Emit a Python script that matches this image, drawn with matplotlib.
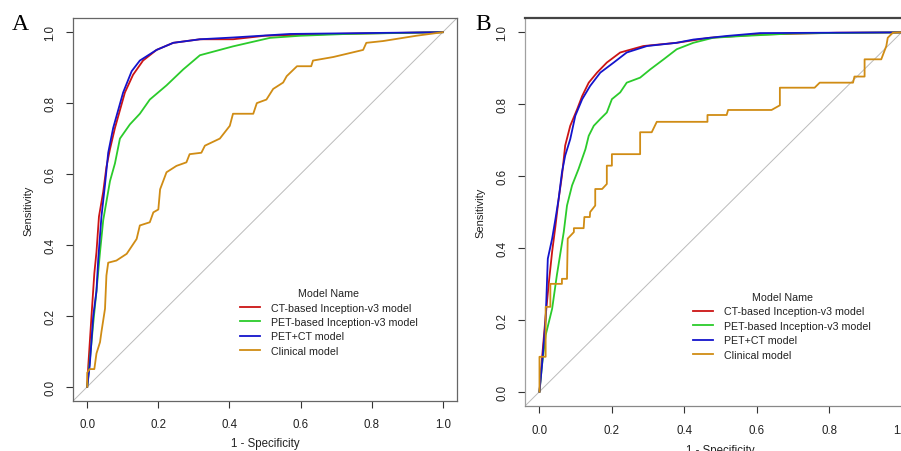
import matplotlib
matplotlib.use("Agg")
import matplotlib.pyplot as plt

plt.rcParams['font.family'] = ['Liberation Sans', 'DejaVu Sans']

legend_title = "Model Name"
model_names = ["CT-based Inception-v3 model", "PET-based Inception-v3 model",
               "PET+CT model", "Clinical model"]
colors = ["#CC1414", "#2BCB2B", "#1414CC", "#D08C14"]
ticks = [0.0, 0.2, 0.4, 0.6, 0.8, 1.0]
tick_labels = ["0.0", "0.2", "0.4", "0.6", "0.8", "1.0"]

# ---- Panel A ----
a_ct_fpr = [0, .003, .012, .02, .026, .033, .045, .054, .064, .078, .092, .106, .129, .157, .195, .242, .317, .41, .5, .69, 1]
a_ct_tpr = [0, .06, .2, .32, .38, .48, .55, .62, .67, .73, .78, .83, .88, .92, .95, .97, .98, .98, .99, .995, 1]
a_pet_fpr = [0, .006, .017, .026, .036, .045, .064, .078, .092, .12, .148, .176, .223, .27, .317, .41, .514, .6, .73, 1]
a_pet_tpr = [0, .06, .18, .27, .38, .47, .58, .63, .70, .74, .77, .81, .85, .895, .935, .96, .984, .99, .995, 1]
a_comb_fpr = [0, .007, .017, .026, .031, .04, .05, .059, .073, .101, .125, .148, .195, .242, .317, .41, .57, 1]
a_comb_tpr = [0, .06, .2, .27, .36, .48, .57, .66, .73, .83, .89, .92, .95, .97, .98, .985, .995, 1]
a_clin_fpr = [0, 0, .007, .02, .026, .036, .04, .05, .054, .059, .082, .111, .139, .148, .176, .186, .2, .205, .223, .251, .279, .288, .321, .331, .373, .401, .41, .467, .477, .504, .523, .551, .561, .59, .63, .635, .692, .776, .785, .832, .926, 1]
a_clin_tpr = [0, .04, .05, .05, .094, .126, .155, .22, .314, .35, .356, .375, .417, .455, .464, .492, .50, .557, .605, .623, .633, .656, .66, .68, .70, .736, .77, .77, .80, .81, .84, .858, .876, .904, .904, .92, .93, .95, .97, .975, .99, 1]

# ---- Panel B ----
b_ct_fpr = [0, .007, .017, .026, .035, .044, .053, .062, .071, .085, .104, .118, .136, .159, .186, .223, .287, .379, .471, .609, .82, 1]
b_ct_tpr = [0, .093, .21, .305, .39, .46, .537, .60, .685, .74, .786, .823, .86, .888, .916, .944, .962, .971, .985, .994, .999, 1]
b_pet_fpr = [0, .007, .017, .035, .048, .067, .076, .09, .108, .127, .136, .15, .168, .186, .2, .223, .241, .278, .306, .343, .379, .425, .48, .563, .7, 1]
b_pet_tpr = [0, .074, .157, .231, .324, .444, .518, .574, .62, .675, .712, .74, .759, .777, .814, .833, .86, .874, .897, .925, .953, .971, .985, .99, .997, 1]
b_comb_fpr = [0, .007, .017, .023, .035, .044, .053, .062, .071, .085, .099, .118, .14, .168, .205, .241, .297, .379, .425, .517, .609, 1]
b_comb_tpr = [0, .074, .2, .37, .426, .48, .537, .61, .657, .703, .768, .814, .851, .888, .916, .944, .962, .971, .98, .99, .998, 1]
b_clin_fpr = [0, 0, .017, .017, .03, .03, .062, .062, .076, .078, .095, .095, .122, .124, .139, .14, .154, .154, .173, .186, .186, .2, .2, .278, .278, .31, .324, .464, .464, .517, .521, .641, .664, .664, .76, .774, .866, .87, .898, .898, .944, .958, .962, .976, .994, 1]
b_clin_tpr = [0, .097, .097, .236, .236, .30, .30, .314, .314, .426, .444, .455, .455, .486, .486, .50, .518, .564, .564, .578, .629, .629, .661, .661, .722, .722, .751, .751, .77, .77, .784, .784, .797, .846, .846, .86, .86, .877, .877, .925, .925, .962, .985, .999, 1, 1]

panels = [
    ("A", [(a_ct_fpr, a_ct_tpr), (a_pet_fpr, a_pet_tpr), (a_comb_fpr, a_comb_tpr), (a_clin_fpr, a_clin_tpr)]),
    ("B", [(b_ct_fpr, b_ct_tpr), (b_pet_fpr, b_pet_tpr), (b_comb_fpr, b_comb_tpr), (b_clin_fpr, b_clin_tpr)]),
]

W, H = 901, 452
fig = plt.figure(figsize=(W / 100, H / 100), dpi=100)

# axes rectangles in pixels: left, top, right, bottom
rects = [(73, 19, 457, 402), (525, 19, 916, 407)]
leg_anchor = [(0.435, 0.295), (0.43, 0.294)]
letter_pos = [(20, 25), (483, 25)]
xpads = [7, 8]
xlabpads = [5, 6]

for i, (letter, curves) in enumerate(panels):
    l, t, r, b = rects[i]
    ax = fig.add_axes([l / W, (H - b) / H, (r - l) / W, (b - t) / H])
    ax.set_xlim(-0.04, 1.04)
    ax.set_ylim(-0.04, 1.04)
    ax.axline((0, 0), (1, 1), color="#BBBBBB", lw=0.7, zorder=1)
    for (fx, ty), c, name in zip(curves, colors, model_names):
        ax.plot(fx, ty, color=c, lw=1.3, label=name, zorder=3)
    ax.set_xticks(ticks)
    ax.set_xticklabels(tick_labels)
    ax.set_yticks(ticks)
    ax.set_yticklabels(tick_labels, rotation=90, va="center")
    ax.tick_params(direction="out", length=5, width=0.8, colors="#333333",
                   labelsize=8.3, labelcolor="#222222")
    ax.tick_params(axis="x", pad=xpads[i])
    ax.tick_params(axis="y", pad=7)
    for s in ax.spines.values():
        s.set_color("#666666")
        s.set_linewidth(0.9)
    if i == 1:
        ax.spines["left"].set_color("#A0A0A0")
        ax.spines["bottom"].set_color("#888888")
        ax.spines["top"].set_color("#444444")
        ax.spines["top"].set_linewidth(1.6)
    ax.set_xlabel("1 - Specificity", fontsize=8.3, color="#222222", labelpad=xlabpads[i])
    ax.set_ylabel("Sensitivity", fontsize=8, color="#222222", labelpad=8)
    leg = ax.legend(loc="upper left", bbox_to_anchor=leg_anchor[i], frameon=False,
                    title=legend_title, fontsize=7.7, title_fontproperties={"size": 7.7},
                    handlelength=1.9, handletextpad=1.0, labelspacing=0.42,
                    borderpad=0, borderaxespad=0)
    for txt in leg.get_texts():
        txt.set_color("#222222")
    leg.get_title().set_color("#222222")
    fig.text(letter_pos[i][0] / W, 1 - letter_pos[i][1] / H, letter,
             family="Liberation Serif", fontsize=17, ha="center", va="center")

fig.savefig("out.png", dpi=100)
